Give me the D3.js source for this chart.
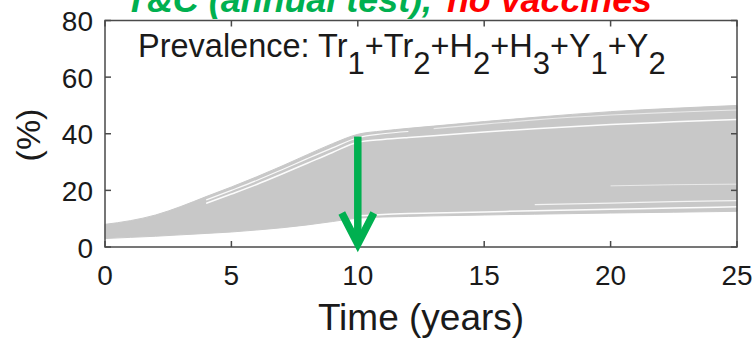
<!DOCTYPE html>
<html>
<head>
<meta charset="utf-8">
<script src="https://cdn.jsdelivr.net/npm/d3@7"></script>
<style>
	body { margin: 0; background: #fff; }
	svg { display: block; }
	text { font-family: "Liberation Sans", Arial, sans-serif; }
</style>
</head>
<body>
<div id="chart"></div>
<script>
// time points (years) shared by every series below
var times = [0, 1, 2, 3, 4, 5, 6, 7, 8, 9, 10, 11, 12, 13, 15, 17, 20, 22.5, 25];

// upper and lower envelope of the simulated trajectories (%)
var bandHigh = [8.0, 9.3, 11.3, 14.3, 17.8, 21.2, 24.8, 28.6, 32.6, 36.5, 39.8, 41.0, 41.9, 42.7, 44.3, 45.8, 47.8, 49.0, 50.0];
var bandLow = [3.0, 3.4, 3.8, 4.3, 4.8, 5.3, 6.0, 6.8, 7.8, 9.0, 10.2, 10.6, 10.8, 11.0, 11.3, 11.6, 12.0, 12.3, 12.6];

// white gaps between trajectory bundles (null = not visible)
var gapTop = [null, null, null, null, 16.6, 20.0, 23.5, 27.3, 31.2, 35.0, 38.6, 40.0, 40.8, null, null, null, null, null, null];
var gapUpper = [null, null, null, null, 15.4, 18.7, 22.1, 25.8, 29.6, 33.4, 37.0, 38.0, 38.7, 39.3, 40.6, 41.8, 43.3, 44.2, 45.0];
var gapHigh = [null, null, null, null, null, null, null, null, null, null, null, null, null, 41.8, 43.4, 44.9, 46.6, 47.6, 48.4];
var gapLow = [null, null, null, null, null, null, null, null, null, null, 11.0, 11.5, 11.8, 12.0, 12.4, 12.8, 13.3, 13.8, 14.2];
var gapLow2 = [null, null, null, null, null, null, null, null, null, null, null, null, null, null, null, 15.0, 15.5, 16.0, 16.4];
var gapMid = [null, null, null, null, null, null, null, null, null, null, null, null, null, null, null, null, 21.6, 22.0, 22.2];

var xTicks = [0, 5, 10, 15, 20, 25];
var yTicks = [0, 20, 40, 60, 80];

// intervention arrow at year 10
var arrowTime = 10;
var arrowFrom = 39;
var arrowTo = 0;

var W = 755, H = 339;
var margin = { left: 105, right: 18, top: 20.5, bottom: 92 };

var svg = d3.select("#chart").append("svg")
	.attr("width", W)
	.attr("height", H);

var x = d3.scaleLinear().domain([0, 25]).range([margin.left, W - margin.right]);
var y = d3.scaleLinear().domain([0, 80]).range([H - margin.bottom, margin.top]);

var grey = "#c8c8c8";

//band of trajectories
var area = d3.area()
	.x(function(d, i) { return x(times[i]); })
	.y0(function(d, i) { return y(bandLow[i]); })
	.y1(function(d, i) { return y(bandHigh[i]); })
	.curve(d3.curveMonotoneX);

svg.append("path")
	.datum(bandHigh)
	.attr("d", area)
	.attr("fill", grey)
	.attr("stroke", grey)
	.attr("stroke-width", 1);

var line = d3.line()
	.defined(function(d) { return d != null; })
	.x(function(d, i) { return x(times[i]); })
	.y(function(d) { return y(d); })
	.curve(d3.curveMonotoneX);

var gaps = [
	{ data: gapTop, w: 1.2, o: 0.9 },
	{ data: gapUpper, w: 1.5, o: 0.95 },
	{ data: gapHigh, w: 1.1, o: 0.6 },
	{ data: gapLow, w: 1.5, o: 0.95 },
	{ data: gapLow2, w: 1.2, o: 0.8 },
	{ data: gapMid, w: 1, o: 0.6 }
];

gaps.forEach(function(g) {
	svg.append("path")
		.datum(g.data)
		.attr("d", line)
		.attr("fill", "none")
		.attr("stroke", "#fff")
		.attr("stroke-width", g.w)
		.attr("stroke-opacity", g.o);
});

// frame and inward ticks (matlab style)
var frame = svg.append("g")
	.attr("stroke", "#4a4a4a")
	.attr("stroke-width", 1.5)
	.attr("fill", "none");

frame.append("rect")
	.attr("x", x(0))
	.attr("y", y(80))
	.attr("width", x(25) - x(0))
	.attr("height", y(0) - y(80));

var tickLen = 6;
xTicks.forEach(function(t) {
	frame.append("line")
		.attr("x1", x(t)).attr("x2", x(t))
		.attr("y1", y(0)).attr("y2", y(0) - tickLen);
	frame.append("line")
		.attr("x1", x(t)).attr("x2", x(t))
		.attr("y1", y(80)).attr("y2", y(80) + tickLen);
});
yTicks.forEach(function(t) {
	frame.append("line")
		.attr("x1", x(0)).attr("x2", x(0) + tickLen)
		.attr("y1", y(t)).attr("y2", y(t));
	frame.append("line")
		.attr("x1", x(25)).attr("x2", x(25) - tickLen)
		.attr("y1", y(t)).attr("y2", y(t));
});

// tick labels
svg.append("g").selectAll("text")
	.data(xTicks)
	.enter()
	.append("text")
	.attr("x", function(d) { return x(d); })
	.attr("y", 285)
	.attr("text-anchor", "middle")
	.attr("font-size", 28)
	.attr("fill", "#1a1a1a")
	.text(function(d) { return d; });

svg.append("g").selectAll("text")
	.data(yTicks)
	.enter()
	.append("text")
	.attr("x", 93)
	.attr("y", function(d) { return y(d) + 10.5; })
	.attr("text-anchor", "end")
	.attr("font-size", 28)
	.attr("fill", "#1a1a1a")
	.text(function(d) { return d; });

// axis titles
svg.append("text")
	.attr("x", (x(0) + x(25)) / 2)
	.attr("y", 330)
	.attr("text-anchor", "middle")
	.attr("font-size", 37)
	.attr("fill", "#1a1a1a")
	.text("Time (years)");

svg.append("text")
	.attr("transform", "translate(40,135) rotate(-90)")
	.attr("text-anchor", "middle")
	.attr("font-size", 34)
	.attr("fill", "#1a1a1a")
	.text("(%)");

// label inside the axes
var label = svg.append("text")
	.attr("x", 138)
	.attr("y", 57)
	.attr("font-size", 32.5)
	.attr("fill", "#1a1a1a");

var parts = [["Prevalence: Tr", "1"], ["+Tr", "2"], ["+H", "2"], ["+H", "3"], ["+Y", "1"], ["+Y", "2"]];
parts.forEach(function(p, i) {
	label.append("tspan").attr("dy", i == 0 ? 0 : -17).text(p[0]);
	label.append("tspan").attr("dy", 17).attr("font-size", 31).text(p[1]);
});

// figure title, cut off at the top edge as in the source figure
svg.append("text")
	.attr("x", 125)
	.attr("y", 12)
	.attr("font-size", 35)
	.attr("font-weight", "bold")
	.attr("font-style", "italic")
	.attr("fill", "#00b050")
	.attr("textLength", 307)
	.attr("lengthAdjust", "spacingAndGlyphs")
	.text("T&C (annual test),");

svg.append("text")
	.attr("x", 447)
	.attr("y", 12)
	.attr("font-size", 35)
	.attr("font-weight", "bold")
	.attr("font-style", "italic")
	.attr("fill", "#ff0000")
	.attr("textLength", 205)
	.attr("lengthAdjust", "spacingAndGlyphs")
	.text("no vaccines");

// green arrow
var ax = x(arrowTime);
var tipY = y(arrowTo) - 3;
svg.append("line")
	.attr("x1", ax).attr("x2", ax)
	.attr("y1", y(arrowFrom)).attr("y2", tipY)
	.attr("stroke", "#00b050")
	.attr("stroke-width", 7.5);

svg.append("path")
	.attr("d", "M" + (ax - 16) + "," + (tipY - 31) + "L" + ax + "," + tipY + "L" + (ax + 16) + "," + (tipY - 31))
	.attr("fill", "none")
	.attr("stroke", "#00b050")
	.attr("stroke-width", 7.5)
	.attr("stroke-linejoin", "miter");
</script>
</body>
</html>
